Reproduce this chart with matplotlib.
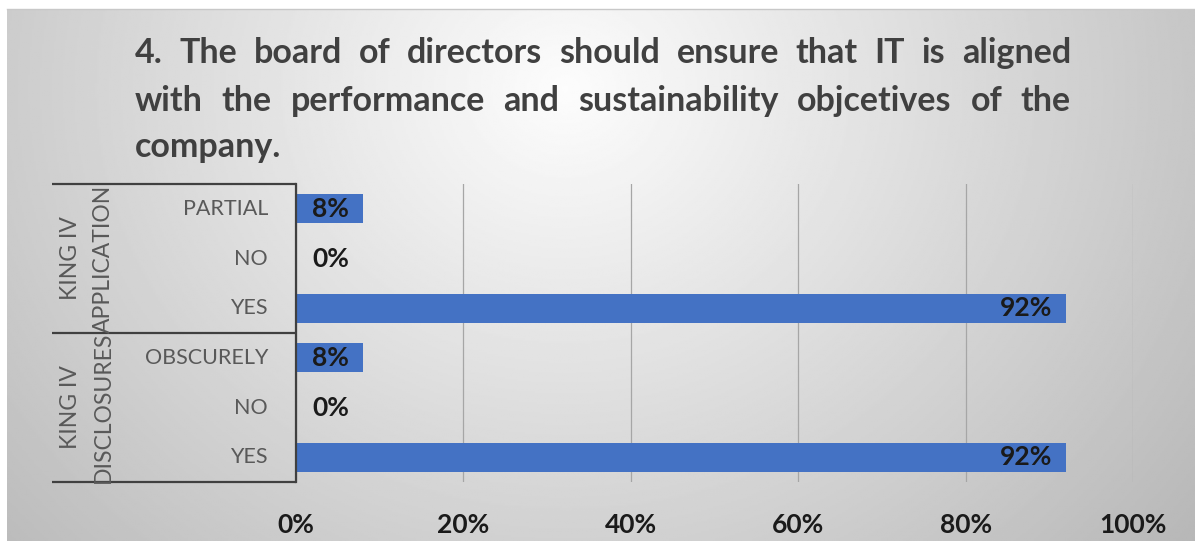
import numpy as np
import matplotlib.pyplot as plt
from matplotlib.lines import Line2D

plt.rcParams['font.family'] = ['Lato', 'DejaVu Sans']

title_lines = ["4. The board of directors should ensure that IT is aligned",
               "with the performance and sustainability objcetives of the",
               "company."]
groups = ["KING IV\nAPPLICATION", "KING IV\nDISCLOSURES"]
answers = ["PARTIAL", "NO", "YES", "OBSCURELY", "NO", "YES"]
shares = [8, 0, 92, 8, 0, 92]
x_ticks = [0, 20, 40, 60, 80, 100]

W, H = 1195, 541
fig = plt.figure(figsize=(W / 100, H / 100), dpi=100)
fig.patch.set_facecolor("white")

# soft radial grey fill behind everything
bg = fig.add_axes([7 / W, 0, 1 - 7 / W, (H - 9) / H], zorder=0)
yy, xx = np.mgrid[0:1:300j, 0:1:600j]
r = np.sqrt(((xx - 0.47) / 0.55) ** 2 + ((yy - 0.15) / 1.1) ** 2)
shade = np.clip(0.99 - 0.22 * r, 0, 1)
bg.imshow(shade, cmap="gray", vmin=0, vmax=1, aspect="auto", extent=[0, 1, 1, 0])
bg.axis("off")
fig.add_artist(Line2D([7 / W, 1], [(H - 8.5) / H] * 2, color="#c8c8c8", lw=1))

# title, justified between two margins
def justified_line(text, x0, x1, baseline, justify=True, **kw):
    renderer = fig.canvas.get_renderer()
    words = text.split()
    items = [fig.text(0, 1 - baseline / H, w, va="baseline", **kw) for w in words]
    widths = [t.get_window_extent(renderer).width for t in items]
    gap = (x1 - x0 - sum(widths)) / (len(words) - 1) if justify and len(words) > 1 else 8
    x = x0
    for t, w in zip(items, widths):
        t.set_x(x / W)
        x += w + gap

title_kw = dict(fontsize=24.5, fontweight="bold", color="#404040")
justified_line(title_lines[0], 135, 1071, 63, **title_kw)
justified_line(title_lines[1], 135, 1071, 111, **title_kw)
justified_line(title_lines[2], 135, 1071, 157, justify=False, **title_kw)

# bar panel
ax = fig.add_axes([296 / W, (H - 482) / H, (1133 - 296) / W, (482 - 184) / H], zorder=1)
ax.set_facecolor("none")
ypos = np.arange(len(answers))
ax.barh(ypos, shares, height=0.58, color="#4472C4", zorder=2)
ax.set_xlim(0, 100)
ax.set_ylim(len(answers) - 0.5, -0.5)
ax.set_xticks(x_ticks)
ax.set_xticklabels([f"{t}%" for t in x_ticks], fontsize=19, fontweight="bold", color="#1a1a1a")
ax.set_yticks([])
ax.tick_params(axis="x", length=0, pad=22)
ax.xaxis.grid(True, color="#a6a6a6", lw=0.9)
ax.set_axisbelow(True)
for side in ["top", "right", "bottom"]:
    ax.spines[side].set_visible(False)
ax.spines["left"].set_color("#404040")
ax.spines["left"].set_linewidth(1.6)

for y, v in zip(ypos, shares):
    if v < 5:
        ax.annotate(f"{v}%", (v, y), xytext=(16, 0), textcoords="offset pixels",
                    ha="left", va="center", fontsize=19, fontweight="bold", color="#1a1a1a")
    else:
        ax.annotate(f"{v}%", (v, y), xytext=(-14, 0), textcoords="offset pixels",
                    ha="right", va="center", fontsize=19, fontweight="bold", color="#1a1a1a")

# two-level category axis on the left
pw = 1133 - 296
for y, lab in zip(ypos, answers):
    ax.text(-28 / pw, y, lab, transform=ax.get_yaxis_transform(), ha="right", va="center",
            fontsize=15.5, color="#595959")
for i, g in enumerate(groups):
    ax.text((87 - 296) / pw, 3 * i + 1, g, transform=ax.get_yaxis_transform(), rotation=90,
            ha="center", va="center", fontsize=16.5, color="#595959", linespacing=1.7,
            multialignment="center")
for yb in [-0.5, 2.5, 5.5]:
    ax.plot([(52 - 296) / pw, 0], [yb, yb], transform=ax.get_yaxis_transform(),
            color="#404040", lw=1.6, clip_on=False, solid_capstyle="butt")

fig.savefig("out.png", dpi=100)
